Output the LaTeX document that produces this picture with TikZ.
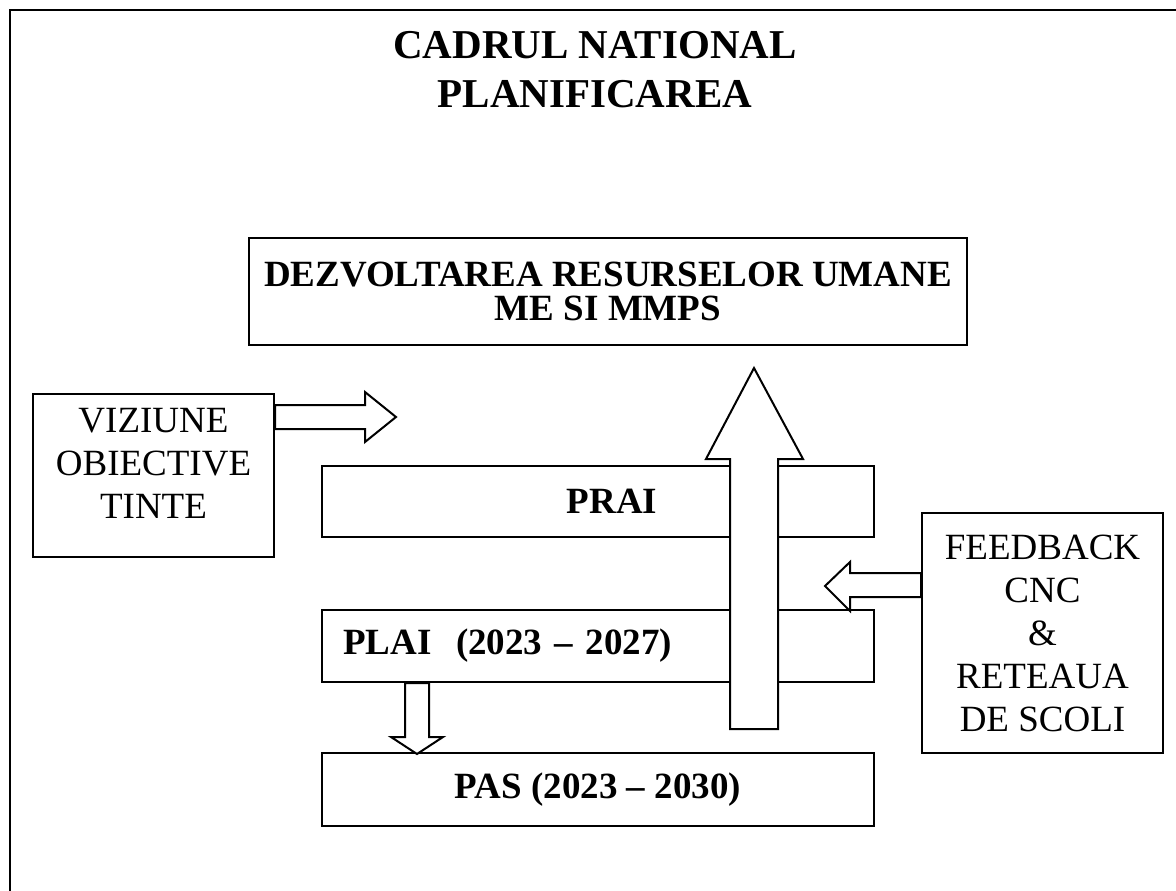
\documentclass[tikz,border=0pt]{standalone}
\usepackage{fontspec}
\setmainfont{Liberation Serif}
\usetikzlibrary{calc}

\begin{document}
\begin{tikzpicture}[x=1pt,y=-1pt,line width=2pt,box/.style={draw,rectangle,inner sep=0pt,align=center},boldtext/.style={font=\fontsize{37}{34}\selectfont\bfseries},plaintext/.style={font=\fontsize{37}{43}\selectfont},fat/.style={draw,fill=white,line join=miter}]
\useasboundingbox (0,0) rectangle (1176,891);
\draw[line width=2.5pt] (1176,10) -- (10,10) -- (10,891);

\node[align=center,font=\fontsize{41}{49}\selectfont\bfseries] (title) at (595,70) {CADRUL NATIONAL\\PLANIFICAREA};
\node[box,boldtext,minimum width=718pt,minimum height=107pt] (dez) at (608,291.5) {DEZVOLTAREA RESURSELOR UMANE\\ME SI MMPS};
\node[box,plaintext,minimum width=241pt,minimum height=163pt,text depth=24pt] (viz) at (153.5,475.5) {VIZIUNE\\OBIECTIVE\\TINTE};
\node[box,boldtext,minimum width=552pt,minimum height=71pt] (prai) at (598,501.5) {\hspace*{28pt}PRAI};
\node[box,boldtext,minimum width=552pt,minimum height=72pt,text width=510pt,align=left] (plai) at (598,646) {PLAI\ \ (2023 -- 2027)};
\node[box,boldtext,minimum width=552pt,minimum height=73pt] (pas) at (598,789.5) {PAS (2023 -- 2030)};
\node[box,plaintext,minimum width=241pt,minimum height=240pt] (fb) at (1042.5,633) {FEEDBACK\\CNC\\\&\\RETEAUA\\DE SCOLI};

\draw[fat] ($(viz.north east)+(0,12)$) -- ++(90,0) -- ++(0,-13) -- ++(31,25) -- ++(-31,25) -- ++(0,-13) -- ++(-90,0) -- cycle;
\draw[fat] ($(pas.north)+(132,-23)$) -- ++(0,-270) -- ++(-24,0) -- ++(48,-91) -- ++(49,91) -- ++(-25,0) -- ++(0,270) -- cycle;
\draw[fat] ($(fb.west)+(0,-60)$) -- ++(-71,0) -- ++(0,-11) -- ++(-25,24) -- ++(25,25) -- ++(0,-14) -- ++(71,0) -- cycle;
\draw[fat] ($(plai.south west)+(84,0)$) -- ++(0,54) -- ++(-14,0) -- ++(26,17) -- ++(26,-17) -- ++(-14,0) -- ++(0,-54) -- cycle;

\end{tikzpicture}
\end{document}
